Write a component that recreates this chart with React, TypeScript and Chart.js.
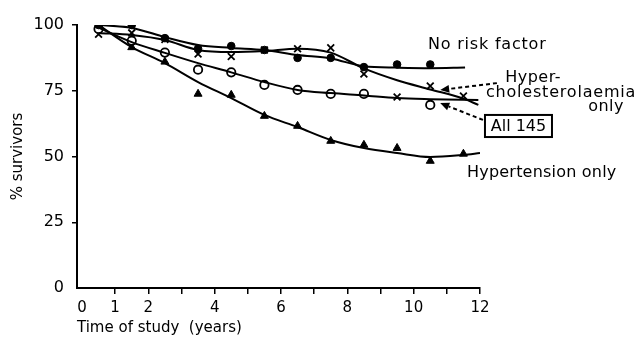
import { useEffect, useRef } from 'react';
import { Chart, registerables } from 'chart.js';

Chart.register(...registerables);

// ---- Data ----
const pointTimes = [0.5, 1.5, 2.5, 3.5, 4.5, 5.5, 6.5, 7.5, 8.5, 9.5, 10.5, 11.5];
const noRiskPoints = [100, 100, 95, 91, 92, 90.5, 87.5, 87.5, 84, 85, 85, null];
const hyperCholPoints = [96.5, 97, 94.5, 89, 88, 90.5, 91, 91.3, 81.4, 72.6, 76.8, 73];
const allPoints = [98.5, 94, 89.5, 83, 82, 77.2, 75.3, 73.8, 73.8, null, 69.6, null];
const hypertensionPoints = [100, 91.5, 86, 73.8, 73.4, 65.4, 61.6, 55.9, 54.4, 53.2, 48.3, 51];

const noRiskCurveT = [0.5, 1.5, 2.5, 3.5, 4.5, 5.5, 6.5, 7.5, 8.5, 9.5, 10.5, 11.55];
const noRiskCurve = [100, 98.9, 95.4, 92.4, 91.3, 90.5, 88.6, 87.3, 84.3, 83.8, 83.6, 83.8];
const hyperCholCurveT = [0.5, 1.5, 2.5, 3.5, 4.5, 5.5, 6.5, 7.5, 8.5, 9.5, 10.5, 11.5, 11.95];
const hyperCholCurve = [97, 96.2, 94.3, 90.5, 89.7, 90.1, 91, 89.5, 83.5, 79, 75.5, 72, 69.6];
const allCurveT = [0.5, 1.5, 2.5, 3.5, 4.5, 5.5, 6.5, 7.5, 8.5, 9.5, 10.5, 11.95];
const allCurve = [99, 93.5, 89.4, 85.5, 82, 78.3, 75.3, 74.1, 73.2, 72.2, 71.8, 71.5];
const hypertensionCurveT = [0.5, 1.5, 2.5, 3.5, 4.5, 5.5, 6.5, 7.5, 8.5, 9.5, 10.5, 11.5, 12];
const hypertensionCurve = [100, 91.6, 85.5, 78.3, 72.2, 65.8, 61.2, 56.3, 53.2, 51.3, 49.8, 50.6, 51.3];

const xTickValues = [0, 1, 2, 3, 4, 5, 6, 7, 8, 9, 10, 11, 12];
const xTickLabels = ['0', '1', '2', '', '4', '', '6', '', '8', '', '10', '', '12'];
const yTickValues = [0, 25, 50, 75, 100];
const yTickLabels = ['0', '25', '50', '75', '100'];

const FONT = '"DejaVu Sans", sans-serif';

// annotation layout, in data coordinates
const annotationConfig = {
  texts: [
    { text: 'No risk factor', t: 10.43, v: 92.4, spacing: '0.8px' },
    { text: 'Hyper-', t: 12.76, v: 79.8, spacing: '0.5px' },
    { text: 'cholesterolaemia', t: 12.18, v: 74.1, spacing: '0.8px' },
    { text: 'only', t: 15.26, v: 68.8, spacing: '0.5px' },
    { text: 'Hypertension only', t: 11.61, v: 43.7, spacing: '0.2px' },
  ],
  box: { text: 'All 145', t0: 12.15, t1: 14.17, v0: 57.4, v1: 65.8 },
  arrows: [
    { t0: 12.51, v0: 77.9, t1: 10.8, v1: 75.3 },
    { t0: 12.09, v0: 63.9, t1: 10.8, v1: 70.3 },
  ],
};

const toXY = (ts: number[], vs: (number | null)[]) =>
  ts.map((t, i) => ({ x: t, y: vs[i] }));

const annotationPlugin = {
  id: 'annotations',
  afterDraw(chart: any) {
    const { ctx, scales } = chart;
    const px = (t: number) => scales.x.getPixelForValue(t);
    const py = (v: number) => scales.y.getPixelForValue(v);
    ctx.save();
    ctx.fillStyle = '#000';
    ctx.strokeStyle = '#000';
    ctx.font = `16px ${FONT}`;
    ctx.textBaseline = 'middle';
    ctx.textAlign = 'left';
    annotationConfig.texts.forEach((a) => {
      (ctx as any).letterSpacing = a.spacing;
      ctx.fillText(a.text, px(a.t), py(a.v));
    });
    (ctx as any).letterSpacing = '0px';

    const b = annotationConfig.box;
    const bx0 = px(b.t0), bx1 = px(b.t1), by0 = py(b.v1), by1 = py(b.v0);
    ctx.lineWidth = 2;
    ctx.strokeRect(bx0, by0, bx1 - bx0, by1 - by0);
    ctx.textAlign = 'center';
    ctx.fillText(b.text, (bx0 + bx1) / 2, (by0 + by1) / 2 + 1);

    annotationConfig.arrows.forEach((a) => {
      const x0 = px(a.t0), y0 = py(a.v0), x1 = px(a.t1), y1 = py(a.v1);
      const ang = Math.atan2(y1 - y0, x1 - x0);
      const headLen = 9;
      const hx = x1 - headLen * Math.cos(ang);
      const hy = y1 - headLen * Math.sin(ang);
      ctx.setLineDash([4, 3]);
      ctx.lineWidth = 2;
      ctx.beginPath();
      ctx.moveTo(x0, y0);
      ctx.lineTo(hx, hy);
      ctx.stroke();
      ctx.setLineDash([]);
      ctx.beginPath();
      ctx.moveTo(x1, y1);
      ctx.lineTo(hx + 4 * Math.sin(ang), hy - 4 * Math.cos(ang));
      ctx.lineTo(hx - 4 * Math.sin(ang), hy + 4 * Math.cos(ang));
      ctx.closePath();
      ctx.fill();
    });
    ctx.restore();
  },
};

export default function App() {
  const canvasRef = useRef<HTMLCanvasElement | null>(null);

  useEffect(() => {
    if (!canvasRef.current) return;
    Chart.defaults.color = '#000';
    Chart.defaults.font.family = FONT;

    const curveStyle = {
      type: 'line' as const,
      borderColor: '#000',
      borderWidth: 2,
      pointRadius: 0,
      cubicInterpolationMode: 'monotone' as const,
      fill: false,
    };
    const pointStyleBase = {
      type: 'line' as const,
      showLine: false,
      borderColor: '#000',
      pointBorderColor: '#000',
    };

    const chart = new Chart(canvasRef.current, {
      type: 'line',
      data: {
        datasets: [
          { ...curveStyle, label: 'No risk factor curve', data: toXY(noRiskCurveT, noRiskCurve) },
          { ...curveStyle, label: 'Hypercholesterolaemia curve', data: toXY(hyperCholCurveT, hyperCholCurve) },
          { ...curveStyle, label: 'All 145 curve', data: toXY(allCurveT, allCurve) },
          { ...curveStyle, label: 'Hypertension curve', data: toXY(hypertensionCurveT, hypertensionCurve) },
          {
            ...pointStyleBase,
            label: 'No risk factor',
            data: toXY(pointTimes, noRiskPoints),
            pointStyle: 'circle',
            pointRadius: 3.8,
            pointBackgroundColor: '#000',
            pointBorderWidth: 1,
          },
          {
            ...pointStyleBase,
            label: 'All 145',
            data: toXY(pointTimes, allPoints),
            pointStyle: 'circle',
            pointRadius: 4.2,
            pointBackgroundColor: '#fff',
            pointBorderWidth: 1.8,
          },
          {
            ...pointStyleBase,
            label: 'Hypercholesterolaemia only',
            data: toXY(pointTimes, hyperCholPoints),
            pointStyle: 'crossRot',
            pointRadius: 4.8,
            pointBorderWidth: 1.8,
          },
          {
            ...pointStyleBase,
            label: 'Hypertension only',
            data: toXY(pointTimes, hypertensionPoints),
            pointStyle: 'triangle',
            pointRadius: 4.6,
            pointBackgroundColor: '#000',
            pointBorderWidth: 1,
          },
        ] as any,
      },
      options: {
        responsive: false,
        animation: false,
        events: [],
        layout: { padding: { left: 0, top: 25, right: 159, bottom: 0 } },
        plugins: { legend: { display: false }, tooltip: { enabled: false } },
        scales: {
          x: {
            type: 'linear',
            min: -0.15,
            max: 12,
            afterBuildTicks: (scale: any) => {
              scale.ticks = xTickValues.map((v) => ({ value: v }));
            },
            afterFit: (scale: any) => {
              scale.height = 50;
            },
            border: { display: true, color: '#000', width: 2 },
            grid: {
              drawOnChartArea: false,
              drawTicks: true,
              tickLength: 6,
              lineWidth: 1.5,
              color: (c: any) => (c.tick && c.tick.value === 0 ? 'rgba(0,0,0,0)' : '#000'),
            },
            ticks: {
              padding: 5,
              maxRotation: 0,
              autoSkip: false,
              font: { size: 15, family: FONT },
              color: '#000',
              callback: (value: any) => {
                const i = xTickValues.indexOf(Number(value));
                return i >= 0 ? xTickLabels[i] : '';
              },
            },
            title: {
              display: true,
              text: 'Time of study  (years)',
              align: 'start',
              color: '#000',
              font: { size: 15, family: FONT },
              padding: { top: 0, bottom: 1 },
            },
          },
          y: {
            type: 'linear',
            min: 0,
            max: 100,
            afterBuildTicks: (scale: any) => {
              scale.ticks = yTickValues.map((v) => ({ value: v }));
            },
            afterFit: (scale: any) => {
              scale.width = 77;
            },
            border: { display: true, color: '#000', width: 2 },
            grid: {
              drawOnChartArea: false,
              drawTicks: true,
              tickLength: 5,
              lineWidth: 1.5,
              color: (c: any) => (c.tick && c.tick.value === 0 ? 'rgba(0,0,0,0)' : '#000'),
            },
            ticks: {
              padding: 8,
              font: { size: 16, family: FONT },
              color: '#000',
              callback: (value: any) => {
                const i = yTickValues.indexOf(Number(value));
                return i >= 0 ? yTickLabels[i] : '';
              },
            },
            title: {
              display: true,
              text: '% survivors',
              color: '#000',
              font: { size: 15, family: FONT },
              padding: { top: 9, bottom: 0 },
            },
          },
        },
      } as any,
      plugins: [annotationPlugin],
    });

    return () => chart.destroy();
  }, []);

  return (
    <div style={{ position: 'absolute', left: 0, top: 0, width: 639, height: 338, background: '#fff' }}>
      <canvas ref={canvasRef} width={639} height={338} style={{ display: 'block' }} />
    </div>
  );
}
